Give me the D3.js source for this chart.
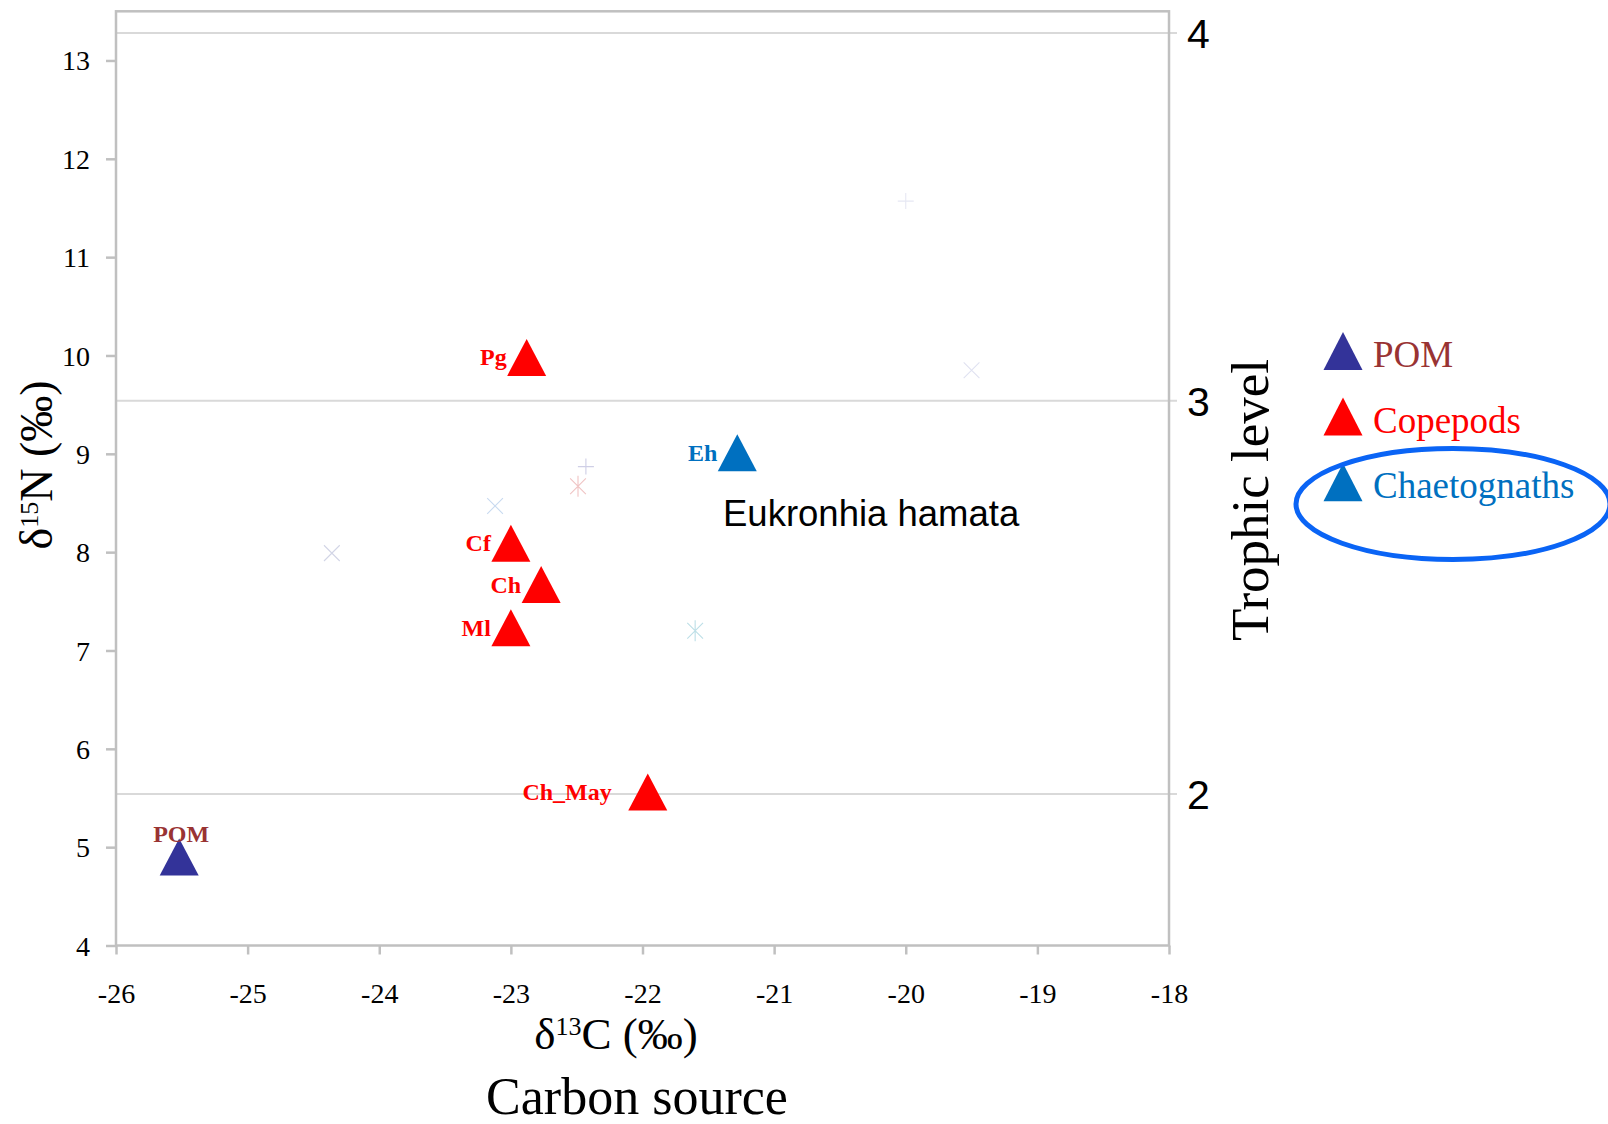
<!DOCTYPE html>
<html>
<head>
<meta charset="utf-8">
<script src="https://cdn.jsdelivr.net/npm/d3@7"></script>
<style>
  html, body { margin: 0; padding: 0; background: #ffffff; }
  svg { display: block; }
</style>
</head>
<body>
<svg id="chart" width="1608" height="1124"></svg>
<script>
// Stable isotope biplot: δ13C vs δ15N with trophic level guide lines

// Taxa plotted as labelled triangles
const taxa   = ["POM", "Pg", "Cf", "Ch", "Ml", "Ch_May", "Eh"];
const taxonGroup = ["POM", "Copepods", "Copepods", "Copepods", "Copepods", "Copepods", "Chaetognaths"];
const d13C   = [-25.52, -22.88, -23.00, -22.77, -23.00, -21.96, -21.28];
const d15N   = [4.90, 9.98, 8.09, 7.67, 7.23, 5.56, 9.01];

// Faded background samples
const faintShape = ["plus", "asterisk", "x", "x", "asterisk", "plus", "x"];
const faintC     = [-22.43, -22.49, -23.12, -24.36, -21.60, -20.00, -19.50];
const faintN     = [8.87, 8.67, 8.47, 7.99, 7.20, 11.57, 9.85];
const faintColor = ["#cfcfe6", "#f0c4c4", "#c8daf0", "#d2d5e6", "#bddfe7", "#e6e8f3", "#e0e2f1"];

// Legend groups
const groups      = ["POM", "Copepods", "Chaetognaths"];
const groupFill   = ["#333399", "#ff0000", "#0070c0"];
const groupText   = ["#993333", "#ff0000", "#0070c0"];

// Axis ticks
const xTicks = [-26, -25, -24, -23, -22, -21, -20, -19, -18];
const yTicks = [4, 5, 6, 7, 8, 9, 10, 11, 12, 13];

// Trophic levels and the δ15N where each guide line sits
const trophicLevels = [4, 3, 2];
const trophicN      = [13.28, 9.54, 5.54];

const fillOf  = g => groupFill[groups.indexOf(g)];
const labelOf = g => groupText[groups.indexOf(g)];
const plain   = d => String(d);   // keeps an ASCII hyphen for negatives

const svg = d3.select("#chart");
const W = 1608, H = 1124;
svg.append("rect").attr("width", W).attr("height", H).attr("fill", "#ffffff");

const plotLeft = 116, plotRight = 1169, plotTop = 11.3, plotBottom = 945.5;
const x = d3.scaleLinear().domain([-26, -18]).range([plotLeft, plotRight]);
const y = d3.scaleLinear().domain([4, 13.5]).range([plotBottom, plotTop]);

const serif = "'Liberation Serif', 'Times New Roman', serif";
const sans  = "'Liberation Sans', Arial, sans-serif";
const frameColor = "#c0c0c0";

// Trophic guide lines (extend slightly past the right frame)
svg.append("g").selectAll("line")
  .data(trophicN)
  .join("line")
  .attr("x1", plotLeft).attr("x2", plotRight + 8)
  .attr("y1", d => y(d)).attr("y2", d => y(d))
  .attr("stroke", "#d9d9d9").attr("stroke-width", 2);

// Frame
svg.append("rect")
  .attr("x", plotLeft).attr("y", plotTop)
  .attr("width", plotRight - plotLeft).attr("height", plotBottom - plotTop)
  .attr("fill", "none").attr("stroke", frameColor).attr("stroke-width", 2.5);

// Left axis
const yAxis = svg.append("g")
  .attr("transform", `translate(${plotLeft},0)`)
  .call(d3.axisLeft(y).tickValues(yTicks).tickSize(10).tickPadding(16).tickFormat(plain));
yAxis.select(".domain").remove();
yAxis.selectAll(".tick line").attr("stroke", frameColor).attr("stroke-width", 2.5);
yAxis.selectAll(".tick text")
  .attr("font-family", serif).attr("font-size", 28).attr("fill", "#000")
  .attr("dy", "0.34em");

// Bottom axis
const xAxis = svg.append("g")
  .attr("transform", `translate(0,${plotBottom})`)
  .call(d3.axisBottom(x).tickValues(xTicks).tickSize(9).tickFormat(plain));
xAxis.select(".domain").remove();
xAxis.selectAll(".tick line").attr("stroke", frameColor).attr("stroke-width", 2.5);
xAxis.selectAll(".tick text")
  .attr("font-family", serif).attr("font-size", 28).attr("fill", "#000")
  .attr("y", 57).attr("dy", 0);

// Right axis: trophic level labels
const rAxis = svg.append("g")
  .attr("transform", `translate(${plotRight},0)`)
  .call(d3.axisRight(y).tickValues(trophicN).tickSize(0).tickPadding(18)
        .tickFormat((d, i) => trophicLevels[i]));
rAxis.select(".domain").remove();
rAxis.selectAll(".tick text")
  .attr("font-family", sans).attr("font-size", 41).attr("fill", "#000")
  .attr("dy", "0.36em");

// Symbol helpers
function triangle(w, h) {
  const p = d3.path();
  p.moveTo(0, -h / 2);
  p.lineTo(w / 2, h / 2);
  p.lineTo(-w / 2, h / 2);
  p.closePath();
  return p.toString();
}
function crossMark(shape, r) {
  const p = d3.path();
  if (shape === "plus") {
    p.moveTo(-r, 0); p.lineTo(r, 0);
    p.moveTo(0, -r); p.lineTo(0, r);
  } else {
    p.moveTo(-r * 0.75, -r * 0.75); p.lineTo(r * 0.75, r * 0.75);
    p.moveTo(-r * 0.75, r * 0.75); p.lineTo(r * 0.75, -r * 0.75);
    if (shape === "asterisk") { p.moveTo(0, -r); p.lineTo(0, r); }
  }
  return p.toString();
}

// Faded samples
svg.append("g").selectAll("path")
  .data(d3.range(faintC.length))
  .join("path")
  .attr("transform", i => `translate(${x(faintC[i])},${y(faintN[i])})`)
  .attr("d", i => crossMark(faintShape[i], faintShape[i] === "plus" ? 8 : 10.5))
  .attr("fill", "none")
  .attr("stroke", i => faintColor[i])
  .attr("stroke-width", 1.1);

// Taxa triangles
const triW = 39, triH = 37;
svg.append("g").selectAll("path")
  .data(d3.range(taxa.length))
  .join("path")
  .attr("transform", i => `translate(${x(d13C[i])},${y(d15N[i])})`)
  .attr("d", triangle(triW, triH))
  .attr("fill", i => fillOf(taxonGroup[i]));

// Taxon labels: POM sits above its marker, others to the left
const labelGap = { Ch_May: 36 };
svg.append("g").selectAll("text")
  .data(d3.range(taxa.length))
  .join("text")
  .attr("font-family", serif).attr("font-weight", "bold").attr("font-size", 24)
  .attr("fill", i => labelOf(taxonGroup[i]))
  .attr("text-anchor", i => taxa[i] === "POM" ? "middle" : "end")
  .attr("x", i => taxa[i] === "POM" ? x(d13C[i]) + 2 : x(d13C[i]) - (labelGap[taxa[i]] || 20))
  .attr("y", i => taxa[i] === "POM" ? y(d15N[i]) - 15 : y(d15N[i]) + 8)
  .text(i => taxa[i]);

// Species annotation
svg.append("text")
  .attr("x", 723).attr("y", 526)
  .attr("font-family", sans).attr("font-size", 36.5).attr("fill", "#000")
  .text("Eukronhia hamata");

// Axis titles
const yTitle = svg.append("text")
  .attr("transform", "translate(52,465) rotate(-90)")
  .attr("text-anchor", "middle")
  .attr("font-family", serif).attr("font-size", 46).attr("fill", "#000");
yTitle.append("tspan").text("δ");
yTitle.append("tspan").attr("font-size", 26).attr("dy", -14).text("15");
yTitle.append("tspan").attr("dy", 14).text("N (‰)");

const xTitle = svg.append("text")
  .attr("x", 616).attr("y", 1049)
  .attr("text-anchor", "middle")
  .attr("font-family", serif).attr("font-size", 45).attr("fill", "#000");
xTitle.append("tspan").text("δ");
xTitle.append("tspan").attr("font-size", 26).attr("dy", -14).text("13");
xTitle.append("tspan").attr("dy", 14).text("C (‰)");

svg.append("text")
  .attr("x", 637).attr("y", 1114)
  .attr("text-anchor", "middle")
  .attr("font-family", serif).attr("font-size", 52).attr("fill", "#000")
  .text("Carbon source");

svg.append("text")
  .attr("transform", "translate(1268,500) rotate(-90)")
  .attr("text-anchor", "middle")
  .attr("font-family", serif).attr("font-size", 53).attr("fill", "#000")
  .text("Trophic level");

// Legend
const legend = svg.append("g").attr("transform", "translate(1343,351)");
const rows = legend.selectAll("g")
  .data(groups)
  .join("g")
  .attr("transform", (d, i) => `translate(0,${i * 65.6})`);
rows.append("path")
  .attr("d", triangle(39, 38))
  .attr("fill", (d, i) => groupFill[i]);
rows.append("text")
  .attr("x", 30).attr("y", 16)
  .attr("font-family", serif).attr("font-size", 37)
  .attr("fill", (d, i) => groupText[i])
  .text(d => d);

// Highlight around the chaetognath entry
svg.append("ellipse")
  .attr("cx", 1453).attr("cy", 504).attr("rx", 157).attr("ry", 55.5)
  .attr("fill", "none").attr("stroke", "#0a64f5").attr("stroke-width", 5);
</script>
</body>
</html>
